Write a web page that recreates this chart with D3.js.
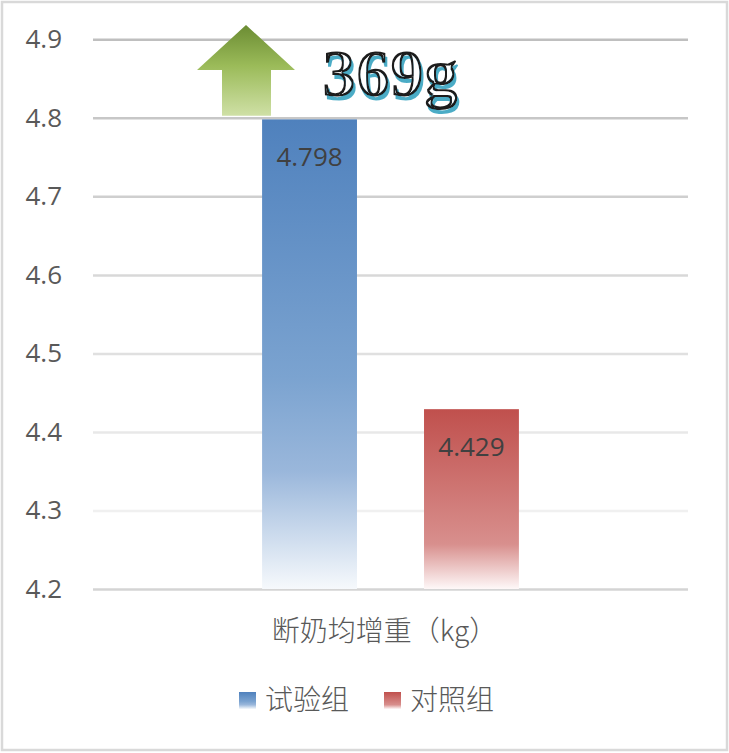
<!DOCTYPE html>
<html>
<head>
<meta charset="utf-8">
<script src="https://cdn.jsdelivr.net/npm/d3@7"></script>
<style>
  body { margin: 0; background: #fff; }
  svg { display: block; }
</style>
</head>
<body>
<script>
//////////////////////////////////////////////
// Data //////////////////////////////////////
//////////////////////////////////////////////
var categories = ["断奶均增重（kg）"];
var seriesNames = ["试验组", "对照组"];
var seriesValues = [4.798, 4.429];
var yTicks = [4.2, 4.3, 4.4, 4.5, 4.6, 4.7, 4.8, 4.9];
var annotationText = "369g";

//////////////////////////////////////////////
// Chart Config /////////////////////////////
//////////////////////////////////////////////
var width = 729, height = 753;
var plot = {left: 93, right: 688, top: 39.3, bottom: 589};

var svg = d3.select("body").append("svg")
	.attr("width", width)
	.attr("height", height);

var defs = svg.append("defs");

// bar gradients (solid at top, fading to white at bottom)
function addGradient(id, stops) {
	var g = defs.append("linearGradient")
		.attr("id", id)
		.attr("x1", 0).attr("y1", 0).attr("x2", 0).attr("y2", 1);
	stops.forEach(function(s) {
		g.append("stop").attr("offset", s[0]).attr("stop-color", s[1]);
	});
}
addGradient("grad0", [[0, "#4f81bd"], [0.55, "#7ba3d0"], [0.75, "#9ab7db"], [1, "#f6f9fc"]]);
addGradient("grad1", [[0, "#c0504d"], [0.75, "#d88f8d"], [1, "#fef8f8"]]);
addGradient("gradArrow", [[0, "#6b8c33"], [0.45, "#9bbb59"], [1, "#cfe0a6"]]);

// word-art look: blue offset shadow, white inline, dark outline
var wa = defs.append("filter").attr("id", "wordart")
	.attr("x", "-10%").attr("y", "-20%").attr("width", "130%").attr("height", "150%");
wa.append("feMorphology").attr("in", "SourceAlpha").attr("operator", "erode").attr("radius", 1.5).attr("result", "thin");
wa.append("feFlood").attr("flood-color", "#ffffff").attr("result", "white");
wa.append("feComposite").attr("in", "white").attr("in2", "thin").attr("operator", "in").attr("result", "inner");
wa.append("feFlood").attr("flood-color", "#4bacc6").attr("result", "blue");
wa.append("feComposite").attr("in", "blue").attr("in2", "SourceAlpha").attr("operator", "in").attr("result", "blueGlyph");
wa.append("feOffset").attr("in", "blueGlyph").attr("dx", 2).attr("dy", 4).attr("result", "shadow");
wa.append("feComposite").attr("in", "SourceAlpha").attr("in2", "thin").attr("operator", "out").attr("result", "ring");
wa.append("feFlood").attr("flood-color", "#1e1e1e").attr("result", "ink");
wa.append("feComposite").attr("in", "ink").attr("in2", "ring").attr("operator", "in").attr("result", "outline");
var merge = wa.append("feMerge");
merge.append("feMergeNode").attr("in", "shadow");
merge.append("feMergeNode").attr("in", "inner");
merge.append("feMergeNode").attr("in", "outline");

// outer border
svg.append("rect")
	.attr("x", 2).attr("y", 2)
	.attr("width", width - 4).attr("height", height - 5)
	.attr("fill", "#fff")
	.attr("stroke", "#d9d9d9")
	.attr("stroke-width", 2.5);

// scales
var yScale = d3.scaleLinear().domain([4.2, 4.9]).range([plot.bottom, plot.top]);
var x0 = d3.scaleBand().domain(categories).range([plot.left, plot.right]).padding(0.397);
var x1 = d3.scaleBand().domain(seriesNames).range([0, x0.bandwidth()])
	.paddingInner(0.414).paddingOuter(0);

// gridline shade gets lighter towards the bottom
var gridColor = d3.scaleLinear().domain([4.9, 4.3]).range(["#bfbfbf", "#f0f0f0"]);

var yAxis = d3.axisLeft(yScale)
	.tickValues(yTicks)
	.tickFormat(d3.format(".1f"))
	.tickSize(-(plot.right - plot.left))
	.tickPadding(31);

var yAxisEl = svg.append("g")
	.attr("transform", "translate(" + plot.left + ",0)")
	.call(yAxis);
yAxisEl.select(".domain").remove();
yAxisEl.selectAll(".tick line")
	.attr("stroke", function(d) { return d === 4.2 ? "#d4d4d4" : gridColor(d); })
	.attr("stroke-width", 2.5);
yAxisEl.selectAll(".tick text")
	.attr("fill", "#595959")
	.style("font-family", "'Open Sans', 'Noto Sans', sans-serif")
	.style("font-size", "26px");

//////////////////////////////////////////////
// Bars //////////////////////////////////////
//////////////////////////////////////////////
var group = svg.append("g")
	.attr("transform", "translate(" + x0(categories[0]) + ",0)");

group.selectAll("rect.bar")
	.data(seriesValues)
	.enter().append("rect")
	.attr("class", "bar")
	.attr("x", function(d, i) { return x1(seriesNames[i]); })
	.attr("y", function(d) { return yScale(d); })
	.attr("width", x1.bandwidth())
	.attr("height", function(d) { return yScale(4.2) - yScale(d); })
	.attr("fill", function(d, i) { return "url(#grad" + i + ")"; });

group.selectAll("text.label")
	.data(seriesValues)
	.enter().append("text")
	.attr("class", "label")
	.attr("x", function(d, i) { return x1(seriesNames[i]) + x1.bandwidth() / 2; })
	.attr("y", function(d) { return yScale(d) + 47; })
	.attr("text-anchor", "middle")
	.attr("fill", "#404040")
	.style("font-family", "'Open Sans', 'Noto Sans', sans-serif")
	.style("font-size", "26px")
	.text(function(d) { return d3.format(".3f")(d); });

// category axis label
svg.append("text")
	.attr("x", x0(categories[0]) + x0.bandwidth() / 2 - 6)
	.attr("y", 641)
	.attr("text-anchor", "middle")
	.attr("fill", "#595959")
	.style("font-family", "'Noto Sans CJK SC', sans-serif")
	.style("font-weight", 300)
	.style("font-size", "28px")
	.text(categories[0]);

//////////////////////////////////////////////
// Annotation: arrow + "369g" ///////////////
//////////////////////////////////////////////
var ax = 246, aTop = 25, aHead = 70, aBottom = yScale(4.8) - 2;
var arrowPts = [
	[ax, aTop], [ax + 49, aHead], [ax + 25, aHead], [ax + 25, aBottom],
	[ax - 24, aBottom], [ax - 24, aHead], [ax - 49, aHead]
];
svg.append("path")
	.attr("d", d3.line()(arrowPts) + "Z")
	.attr("fill", "url(#gradArrow)");

svg.append("text")
	.attr("x", 322).attr("y", 96)
	.attr("fill", "#000")
	.attr("filter", "url(#wordart)")
	.style("font-family", "'Liberation Serif', serif")
	.style("font-weight", "bold")
	.style("font-size", "68px")
	.text(annotationText);

//////////////////////////////////////////////
// Legend ////////////////////////////////////
//////////////////////////////////////////////
var legendX = [239, 384];
var legend = svg.selectAll("g.legend")
	.data(seriesNames)
	.enter().append("g")
	.attr("class", "legend")
	.attr("transform", function(d, i) { return "translate(" + legendX[i] + ",692)"; });

legend.append("rect")
	.attr("width", 17).attr("height", 17)
	.attr("fill", function(d, i) { return "url(#grad" + i + ")"; });

legend.append("text")
	.attr("x", 26).attr("y", 18)
	.attr("fill", "#595959")
	.style("font-family", "'Noto Sans CJK SC', sans-serif")
	.style("font-weight", 300)
	.style("font-size", "28px")
	.text(function(d) { return d; });
</script>
</body>
</html>
